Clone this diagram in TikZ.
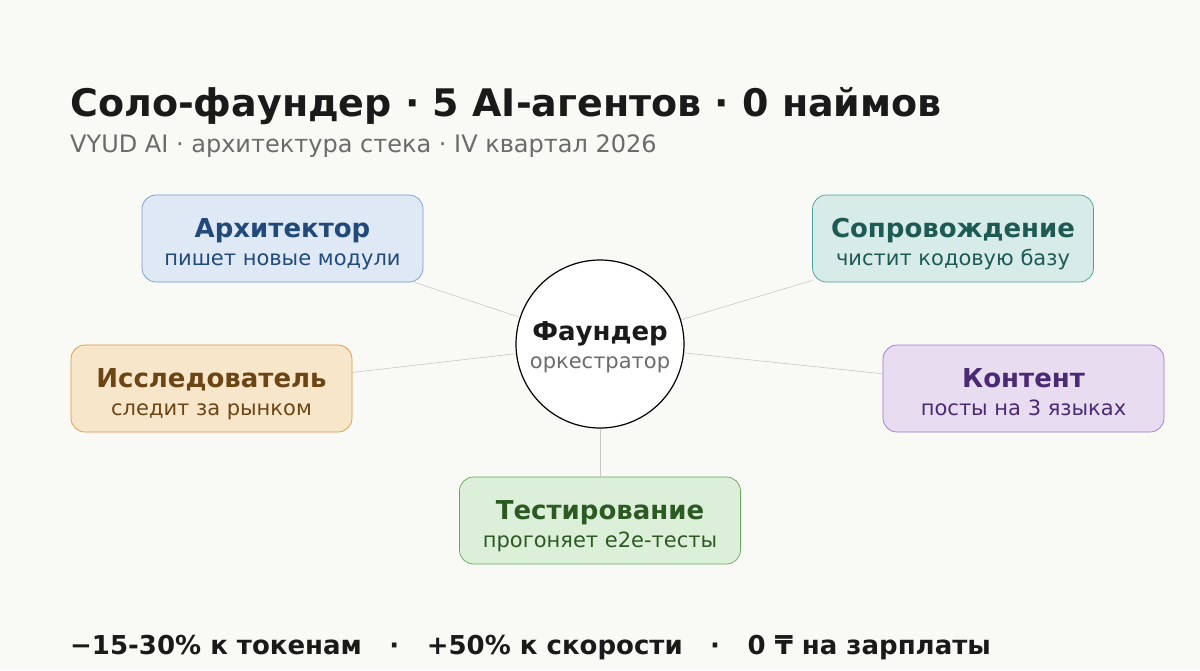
\documentclass[tikz,border=0pt]{standalone}
\usepackage{fontspec}
\setmainfont{DejaVu Sans}
\usepackage{tikz}
\tikzset{>=latex}

\definecolor{paper}{HTML}{F9F9F5}
\definecolor{ink}{HTML}{1A1A1A}
\definecolor{muted}{HTML}{6B6B6B}
\definecolor{linkgray}{HTML}{C8C8C4}
\definecolor{archfill}{HTML}{DFE9F6}\definecolor{archline}{HTML}{6F9AD6}\definecolor{archtext}{HTML}{214A78}
\definecolor{maintfill}{HTML}{D7EBE9}\definecolor{maintline}{HTML}{4E9E97}\definecolor{mainttext}{HTML}{1E5A54}
\definecolor{resfill}{HTML}{F8E6CB}\definecolor{resline}{HTML}{D49A45}\definecolor{restext}{HTML}{6B4514}
\definecolor{contfill}{HTML}{E8DCF0}\definecolor{contline}{HTML}{9B78CC}\definecolor{conttext}{HTML}{4B2A73}
\definecolor{testfill}{HTML}{DCEFD9}\definecolor{testline}{HTML}{64A85A}\definecolor{testtext}{HTML}{2D5A23}

\tikzset{
  agent/.style={draw, rounded corners=14pt, minimum width=281pt, minimum height=87pt, line width=0.7pt, inner sep=0pt},
  agentname/.style={anchor=base, inner sep=0pt, font=\fontsize{26}{30}\selectfont\bfseries},
  agentjob/.style={anchor=base, inner sep=0pt, font=\fontsize{21}{25}\selectfont},
  link/.style={draw=linkgray, line width=0.6pt}
}

\begin{document}
\begin{tikzpicture}[x=1pt,y=-1pt]
\fill [paper] (0,0) rectangle (1200,670);
\useasboundingbox (0,0) rectangle (1200,670);

\node [anchor=base west, inner sep=0pt, text=ink, font=\fontsize{38}{42}\selectfont\bfseries] (title) at (70,116) {Соло-фаундер · 5 AI-агентов · 0 наймов};
\node [anchor=base west, inner sep=0pt, text=muted, font=\fontsize{24}{28}\selectfont] (subtitle) at (70,152) {VYUD AI · архитектура стека · IV квартал 2026};

\node [circle, draw=black, fill=white, line width=1.2pt, minimum size=168pt, inner sep=0pt] (founder) at (600,344) {};
\node [agent, fill=archfill, draw=archline] (arch) at (282.5,238.5) {};
\node [agent, fill=maintfill, draw=maintline] (maint) at (953,238.5) {};
\node [agent, fill=resfill, draw=resline] (res) at (211.5,388.5) {};
\node [agent, fill=contfill, draw=contline] (cont) at (1023.5,388.5) {};
\node [agent, fill=testfill, draw=testline] (test) at (600,520.5) {};

\draw [link] (founder) -- (arch);
\draw [link] (founder) -- (maint);
\draw [link] (founder) -- (res);
\draw [link] (founder) -- (cont);
\draw [link] (founder) -- (test);

\node [anchor=base, inner sep=0pt, text=ink, font=\fontsize{26}{30}\selectfont\bfseries] (foundername) at (600,340) {Фаундер};
\node [anchor=base, inner sep=0pt, text=muted, font=\fontsize{21}{25}\selectfont] (founderjob) at (600,368) {оркестратор};

\node [agentname, text=archtext] (archname) at (282.5,237) {Архитектор};
\node [agentjob, text=archtext] (archjob) at (282.5,265) {пишет новые модули};
\node [agentname, text=mainttext] (maintname) at (953,237) {Сопровождение};
\node [agentjob, text=mainttext] (maintjob) at (953,265) {чистит кодовую базу};
\node [agentname, text=restext] (resname) at (211.5,387) {Исследователь};
\node [agentjob, text=restext] (resjob) at (211.5,415) {следит за рынком};
\node [agentname, text=conttext] (contname) at (1023.5,387) {Контент};
\node [agentjob, text=conttext] (contjob) at (1023.5,415) {посты на 3 языках};
\node [agentname, text=testtext] (testname) at (600,519) {Тестирование};
\node [agentjob, text=testtext] (testjob) at (600,547) {прогоняет e2e-тесты};

\node [anchor=base west, inner sep=0pt, text=ink, font=\fontsize{26}{30}\selectfont\bfseries] (summary) at (70,654) {−15-30\% к токенам\hspace{27.5pt}·\hspace{27.5pt}+50\% к скорости\hspace{27.5pt}·\hspace{27.5pt}0 ₸ на зарплаты};
\end{tikzpicture}
\end{document}
